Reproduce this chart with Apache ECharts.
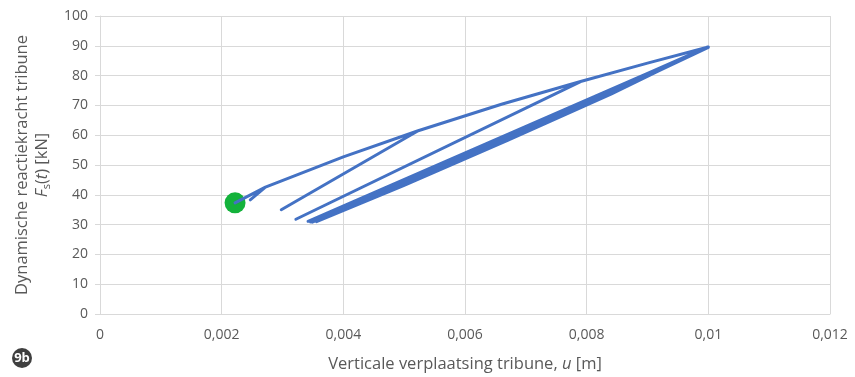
<!DOCTYPE html>
<html>
<head>
<meta charset="utf-8">
<script src="https://cdn.jsdelivr.net/npm/echarts@6/dist/echarts.min.js"></script>
<style>
html,body{margin:0;padding:0;background:#fff;}
#chart{width:855px;height:377px;}
</style>
</head>
<body>
<div id="chart"></div>
<script>
// Displacement u [m] and force Fs [kN], in time order
var uPath = [0.00222, 0.00272, 0.00247, 0.00272, 0.00400, 0.00523, 0.00298, 0.00523, 0.00660, 0.00790, 0.00322, 0.00790, 0.00900, 0.01000,
             0.00342, 0.00500, 0.00670, 0.00840, 0.01000,
             0.00349, 0.00500, 0.00670, 0.00840, 0.01000,
             0.00356, 0.00500, 0.00670, 0.00840, 0.00999,
             0.00346, 0.00500, 0.00670, 0.00840, 0.01000];
var fPath = [37.3, 42.6, 38.3, 42.6, 52.7, 61.5, 35.0, 61.5, 70.4, 78.0, 31.8, 78.0, 84.2, 89.6,
             31.1, 43.8, 58.8, 74.3, 89.6,
             30.8, 43.5, 58.5, 74.0, 89.5,
             31.0, 43.2, 58.3, 73.8, 89.6,
             30.9, 43.7, 58.9, 74.5, 89.6];
var startU = [0.00222];
var startF = [37.3];
var xTickLabels = ['0', '0,002', '0,004', '0,006', '0,008', '0,01', '0,012'];
var yTickLabels = ['0', '10', '20', '30', '40', '50', '60', '70', '80', '90', '100'];

var pathData = uPath.map(function (u, i) { return [u, fPath[i]]; });
var startData = startU.map(function (u, i) { return [u, startF[i]]; });

var FONT = 'Open Sans';
var chart = echarts.init(document.getElementById('chart'), null, {renderer: 'canvas'});
chart.setOption({
  animation: false,
  backgroundColor: '#ffffff',
  textStyle: {fontFamily: FONT},
  grid: {left: 100, right: 25, top: 16, bottom: 63, containLabel: false, outerBoundsMode: 'none'},
  xAxis: {
    type: 'value', min: 0, max: 0.012, interval: 0.002,
    axisLine: {show: true, lineStyle: {color: '#d9d9d9', width: 1}},
    axisTick: {show: false},
    splitLine: {show: true, lineStyle: {color: '#d9d9d9', width: 1}},
    axisLabel: {
      color: '#595959', fontSize: 14, fontFamily: FONT, margin: 14,
      formatter: function (v) { return xTickLabels[Math.round(v / 0.002)]; }
    },
    name: '{n|Verticale verplaatsing tribune, }{i|u}{n| [m]}',
    nameLocation: 'middle', nameGap: 42,
    nameTextStyle: {
      rich: {
        n: {fontSize: 16.5, color: '#595959', fontFamily: FONT},
        i: {fontSize: 16.5, color: '#595959', fontFamily: FONT, fontStyle: 'italic'}
      }
    }
  },
  yAxis: {
    type: 'value', min: 0, max: 100, interval: 10,
    axisLine: {show: true, lineStyle: {color: '#d9d9d9', width: 1}},
    axisTick: {show: true, length: 5, lineStyle: {color: '#d9d9d9'}},
    splitLine: {show: true, lineStyle: {color: '#d9d9d9', width: 1}},
    axisLabel: {
      color: '#595959', fontSize: 14, fontFamily: FONT, margin: 12,
      formatter: function (v) { return yTickLabels[Math.round(v / 10)]; }
    },
    name: '{n|Dynamische reactiekracht tribune}\n{i|F}{s|s}{n|(}{i|t}{n|) [kN]}',
    nameLocation: 'middle', nameGap: 48, nameRotate: 90,
    nameTextStyle: {
      lineHeight: 20,
      rich: {
        n: {fontSize: 16.5, color: '#595959', fontFamily: FONT, lineHeight: 20},
        i: {fontSize: 16.5, color: '#595959', fontFamily: FONT, fontStyle: 'italic', lineHeight: 20},
        s: {fontSize: 11, color: '#595959', fontFamily: FONT, lineHeight: 20, verticalAlign: 'bottom', padding: [6, 0, 0, 0]}
      }
    }
  },
  series: [
    {
      type: 'line', data: pathData, showSymbol: false, smooth: false,
      lineStyle: {color: '#4472c4', width: 3, join: 'round', cap: 'round'},
      z: 2
    },
    {
      type: 'scatter', data: startData, symbol: 'circle', symbolSize: 21,
      itemStyle: {color: '#13b23b', opacity: 1}, z: 1
    }
  ],
  graphic: [
    {type: 'circle', shape: {cx: 22, cy: 358, r: 10}, style: {fill: '#3f3f3f'}},
    {type: 'text', x: 22, y: 358, style: {text: '9b', fill: '#ffffff', font: 'bold 13px ' + FONT, align: 'center', verticalAlign: 'middle'}}
  ]
});
</script>
</body>
</html>
